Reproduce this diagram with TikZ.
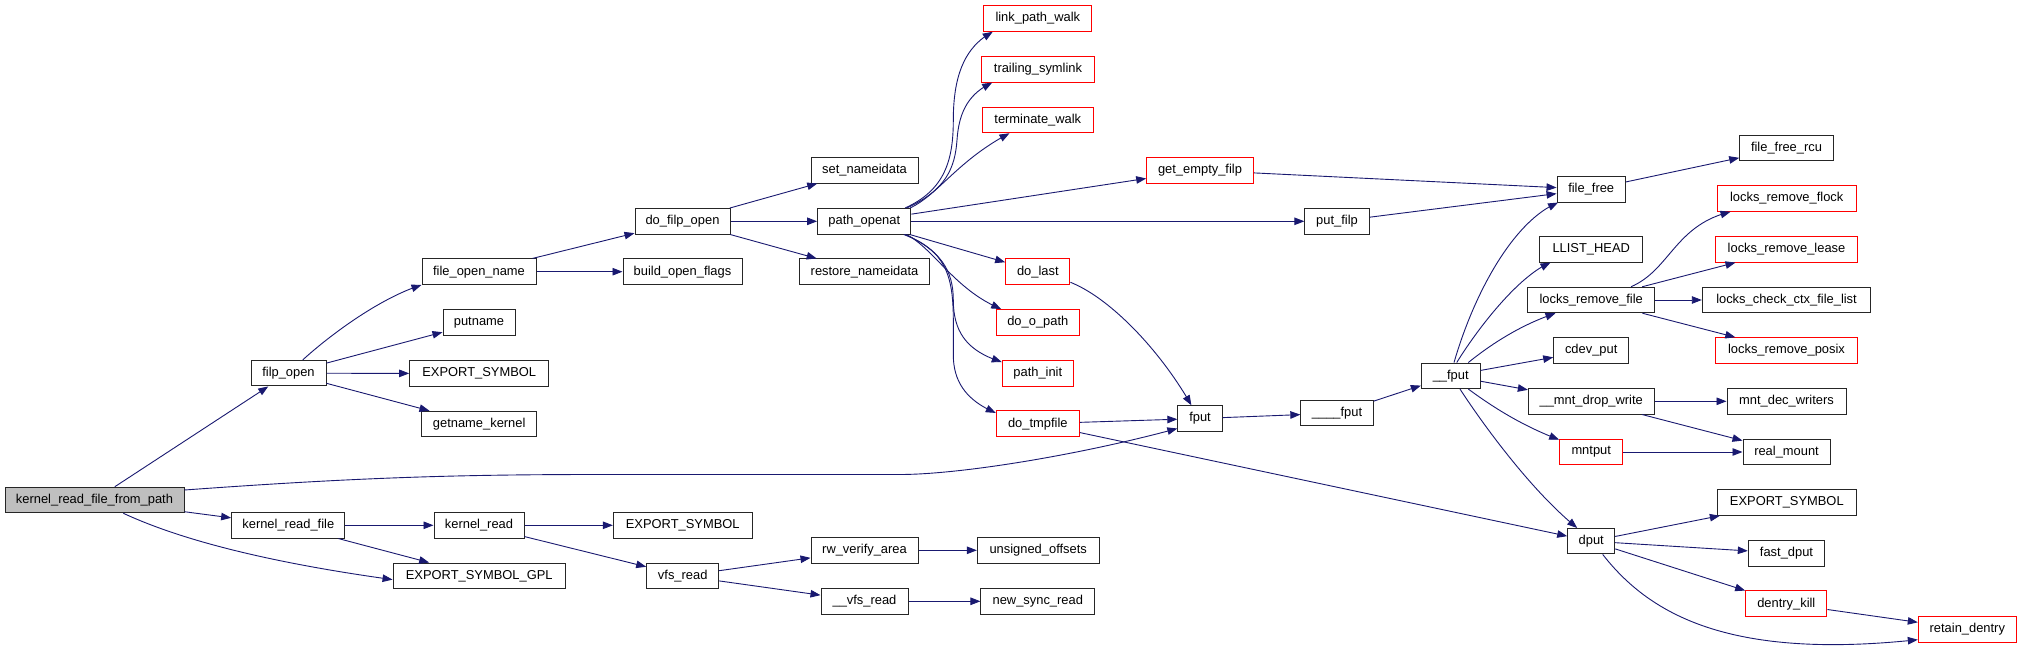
\documentclass[tikz,border=0pt]{standalone}
\usepackage{fontspec}
\setmainfont{Liberation Sans}
\usetikzlibrary{arrows.meta,bending}
\definecolor{edgeblue}{HTML}{191970}
\definecolor{rootgrey}{HTML}{BFBFBF}
\begin{document}
\begin{tikzpicture}[x=1pt,y=-1pt,
  box/.style={draw=black!85, line width=1pt, fill=white, minimum height=25.5pt, inner sep=0pt,
    font=\fontsize{12.9}{15}\selectfont},
  rbox/.style={box, draw=red},
  rootbox/.style={box, fill=rootgrey},
  edge/.style={draw=edgeblue, line width=0.9pt, -{Triangle[length=10pt,width=7.5pt]}}]
\useasboundingbox (0,0) rectangle (2021,652);
\fill[white] (0,0) rectangle (2021,652);

% column 0
\node[rootbox, minimum width=179pt] (kfp) at (94.5,500) {kernel\_read\_file\_from\_path};
% column 1
\node[box, minimum width=75pt] (filp) at (288.5,373.2) {filp\_open};
\node[box, minimum width=113.3pt] (krf) at (288.3,525.3) {kernel\_read\_file};
% column 2
\node[box, minimum width=114pt] (fon) at (479,271.7) {file\_open\_name};
\node[box, minimum width=72pt] (putname) at (479,322.5) {putname};
\node[box, minimum width=139pt] (expa) at (479.2,373.5) {EXPORT\_SYMBOL};
\node[box, minimum width=115pt] (getname) at (479.2,424) {getname\_kernel};
\node[box, minimum width=90pt] (kread) at (479,525.3) {kernel\_read};
\node[box, minimum width=172.3pt] (gpl) at (479.2,575.8) {EXPORT\_SYMBOL\_GPL};
% column 3
\node[box, minimum width=95pt] (dfo) at (682.5,221.3) {do\_filp\_open};
\node[box, minimum width=119pt] (bof) at (682.5,271.7) {build\_open\_flags};
\node[box, minimum width=138.7pt] (expb) at (682.7,525.3) {EXPORT\_SYMBOL};
\node[box, minimum width=72pt] (vfsr) at (682.7,575.8) {vfs\_read};
% column 4
\node[box, minimum width=107pt] (setn) at (864.5,170.3) {set\_nameidata};
\node[box, minimum width=93.3pt] (po) at (864.3,221.3) {path\_openat};
\node[box, minimum width=129.6pt] (restn) at (864.5,271.7) {restore\_nameidata};
\node[box, minimum width=107pt] (rwv) at (864.5,550.3) {rw\_verify\_area};
\node[box, minimum width=87pt] (uvfs) at (864.5,601.3) {\_\_vfs\_read};
% column 5
\node[rbox, minimum width=108.3pt] (lpw) at (1037.8,18.5) {link\_path\_walk};
\node[rbox, minimum width=112.6pt] (tsl) at (1038,69.3) {trailing\_symlink};
\node[rbox, minimum width=111pt] (tw) at (1037.8,120) {terminate\_walk};
\node[rbox, minimum width=64.3pt] (dlast) at (1037.8,271.7) {do\_last};
\node[rbox, minimum width=83pt] (dop) at (1037.8,322.3) {do\_o\_path};
\node[rbox, minimum width=71pt] (pinit) at (1037.8,373.3) {path\_init};
\node[rbox, minimum width=83pt] (dtmp) at (1037.8,423.7) {do\_tmpfile};
\node[box, minimum width=121.7pt] (uoff) at (1038.2,550.3) {unsigned\_offsets};
\node[box, minimum width=113.7pt] (nsr) at (1037.8,601.3) {new\_sync\_read};
% column 6
\node[rbox, minimum width=106.6pt] (gef) at (1200,170.3) {get\_empty\_filp};
\node[box, minimum width=44.3pt] (fput) at (1200,418.5) {fput};
% column 7
\node[box, minimum width=64.3pt] (putf) at (1337,221.3) {put\_filp};
\node[box, minimum width=72.3pt] (ffput) at (1337,413.2) {\_\_\_\_fput};
% column 8
\node[box, minimum width=58.7pt] (ufput) at (1450.7,375.8) {\_\_fput};
% column 9
\node[box, minimum width=68.3pt] (ffree) at (1591.2,189.3) {file\_free};
\node[box, minimum width=103pt] (llh) at (1591.2,249.3) {LLIST\_HEAD};
\node[box, minimum width=127pt] (lrf) at (1591.2,300) {locks\_remove\_file};
\node[box, minimum width=75pt] (cdev) at (1591.2,350.5) {cdev\_put};
\node[box, minimum width=125.7pt] (mdw) at (1591.2,401.3) {\_\_mnt\_drop\_write};
\node[rbox, minimum width=63pt] (mntput) at (1591.2,452) {mntput};
\node[box, minimum width=47pt] (dput) at (1591.2,541.2) {dput};
% column 10
\node[box, minimum width=93.6pt] (ffrcu) at (1786.5,147.8) {file\_free\_rcu};
\node[rbox, minimum width=139.3pt] (lrflock) at (1786.7,198.5) {locks\_remove\_flock};
\node[rbox, minimum width=141.6pt] (lrlease) at (1786.5,249.3) {locks\_remove\_lease};
\node[box, minimum width=168.4pt] (lcc) at (1786.5,300) {locks\_check\_ctx\_file\_list};
\node[rbox, minimum width=141.6pt] (lrposix) at (1786.5,350.5) {locks\_remove\_posix};
\node[box, minimum width=119pt] (mdec) at (1786.5,401.3) {mnt\_dec\_writers};
\node[box, minimum width=87pt] (rmount) at (1786.5,452) {real\_mount};
\node[box, minimum width=139pt] (expc) at (1786.8,502.5) {EXPORT\_SYMBOL};
\node[box, minimum width=76.4pt] (fdput) at (1786.5,553.3) {fast\_dput};
\node[rbox, minimum width=81.3pt] (dkill) at (1786.3,603.7) {dentry\_kill};
% column 11
\node[rbox, minimum width=98pt] (rdent) at (1967.3,629.3) {retain\_dentry};

% edges from root
\draw[edge] (kfp) -- (filp);
\draw[edge] ([yshift=10pt]kfp.east) .. controls (350,478) and (450,474.5) .. (600,474.5) -- (900,474.5)
  .. controls (960,474.5) and (1080,455) .. ([yshift=-10pt]fput.west);
\draw[edge] (kfp) -- (krf);
\draw[edge] ([xshift=28.8pt]kfp.south) .. controls (170,535) and (250,560) .. ([yshift=-3.8pt]gpl.west);
% filp_open
\draw[edge] ([xshift=14.2pt]filp.north) .. controls (330,335) and (380,298) .. (fon.south west);
\draw[edge] (filp) -- (putname);
\draw[edge] (filp) -- (expa);
\draw[edge] (filp) -- (getname);
% kernel_read_file
\draw[edge] (krf) -- (kread);
\draw[edge] (krf) -- (gpl);
% file_open_name
\draw[edge] (fon) -- (dfo);
\draw[edge] (fon) -- (bof);
% kernel_read
\draw[edge] (kread) -- (expb);
\draw[edge] (kread) -- (vfsr);
% do_filp_open
\draw[edge] (dfo) -- (setn);
\draw[edge] (dfo) -- (po);
\draw[edge] (dfo) -- (restn);
% vfs_read
\draw[edge] (vfsr) -- (rwv);
\draw[edge] (vfsr) -- (uvfs);
\draw[edge] (rwv) -- (uoff);
\draw[edge] (uvfs) -- (nsr);
% path_openat
\draw[edge] ([xshift=40.7pt]po.north) .. controls (945,190) and (953.3,160) .. (953.3,120)
  .. controls (953.3,70) and (968,45) .. ([xshift=9.6pt]lpw.south west);
\draw[edge] ([xshift=42.4pt]po.north) .. controls (946,190) and (955,168) .. (957,140)
  .. controls (959,110) and (970,93) .. ([xshift=11pt]tsl.south west);
\draw[edge] ([xshift=45.7pt]po.north) .. controls (938,195) and (958,160) .. ([xshift=27.7pt]tw.south west);
\draw[edge] (po) -- (gef);
\draw[edge] (po) -- (putf);
\draw[edge] (po) -- (dlast);
\draw[edge] ([xshift=42.4pt]po.south) .. controls (935,250) and (955,290) .. ([xshift=5.4pt]dop.north west);
\draw[edge] ([xshift=40.7pt]po.south) .. controls (940,250) and (953.3,270) .. (953.3,300)
  .. controls (953.3,335) and (970,352) .. ([yshift=-2pt]pinit.north west);
\draw[edge] ([xshift=39.5pt]po.south) .. controls (945,250) and (953.3,275) .. (953.3,320) -- (953.3,355)
  .. controls (953.3,385) and (970,402) .. ([yshift=-2.5pt]dtmp.north west);
% do_last, do_tmpfile
\draw[edge] ([yshift=-10.6pt]dlast.east) .. controls (1110,298) and (1160,350) .. ([xshift=14pt]fput.north west);
\draw[edge] (dtmp) -- (fput);
\draw[edge] (dtmp) -- (dput);
% file_free
\draw[edge] (gef) -- (ffree);
\draw[edge] (putf) -- (ffree);
\draw[edge] (ffree) -- (ffrcu);
% fput chain
\draw[edge] (fput) -- (ffput);
\draw[edge] (ffput) -- (ufput);
% __fput
\draw[edge] ([xshift=3.3pt]ufput.north) .. controls (1475,290) and (1515,220) .. ([xshift=1.5pt]ffree.south west);
\draw[edge] ([xshift=6pt]ufput.north) .. controls (1480,325) and (1520,275) .. ([xshift=11.3pt]llh.south west);
\draw[edge] ([xshift=17.6pt]ufput.north) .. controls (1490,345) and (1520,325) .. ([xshift=28.3pt]lrf.south west);
\draw[edge] (ufput) -- (cdev);
\draw[edge] (ufput) -- (mdw);
\draw[edge] ([xshift=17.6pt]ufput.south) .. controls (1490,405) and (1520,425) .. ([yshift=-1pt]mntput.north west);
\draw[edge] ([xshift=9.3pt]ufput.south) .. controls (1480,420) and (1530,490) .. ([xshift=10pt]dput.north west);
% locks_remove_file
\draw[edge] ([xshift=39.8pt]lrf.north) .. controls (1670,270) and (1675,225) .. ([xshift=14pt]lrflock.south west);
\draw[edge] (lrf) -- (lrlease);
\draw[edge] (lrf) -- (lcc);
\draw[edge] (lrf) -- (lrposix);
% mnt
\draw[edge] (mdw) -- (mdec);
\draw[edge] (mdw) -- (rmount);
\draw[edge] (mntput) -- (rmount);
% dput
\draw[edge] (dput) -- (expc);
\draw[edge] (dput) -- (fdput);
\draw[edge] (dput) -- (dkill);
\draw[edge] ([xshift=11.5pt]dput.south) .. controls (1650,615) and (1730,660) .. ([yshift=-10.4pt]rdent.west);
\draw[edge] (dkill) -- (rdent);
\end{tikzpicture}
\end{document}
